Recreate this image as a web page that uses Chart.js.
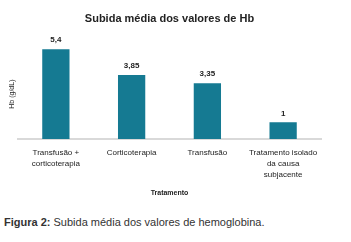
<!DOCTYPE html>
<html>
<head>
<meta charset="utf-8">
<script src="https://cdn.jsdelivr.net/npm/chart.js@4.4.0/dist/chart.umd.min.js"></script>
<style>
  body { margin: 0; background: #fff; width: 351px; height: 242px; overflow: hidden; }
  #wrap { position: absolute; left: 0; top: 0; width: 330px; height: 197px; }
  #caption { position: absolute; left: 4px; top: 216px; font: 11px "Liberation Sans", Arial, sans-serif; color: #333; white-space: nowrap; }
</style>
</head>
<body>
<div id="wrap"><canvas id="myChart"></canvas></div>
<div id="caption"><b>Figura 2:</b> Subida média dos valores de hemoglobina.</div>
<script>
var categorias = [
    ['Transfusão +', 'corticoterapia'],
    'Corticoterapia',
    'Transfusão',
    ['Tratamento isolado', 'da causa', 'subjacente']
]
var subidaHb = [5.4, 3.85, 3.35, 1]
var rotulos = ['5,4', '3,85', '3,35', '1']

var fonte = '"Liberation Sans", Arial, sans-serif'

// valores por cima das barras + titulo do eixo y
var rotulosPlugin = {
    id: 'rotulos',
    afterDatasetsDraw: function(chart){
        var ctx = chart.ctx
        var meta = chart.getDatasetMeta(0)
        ctx.save()
        ctx.fillStyle = '#222'
        ctx.font = 'bold 8px ' + fonte
        ctx.textAlign = 'center'
        ctx.textBaseline = 'middle'
        meta.data.forEach(function(bar, i){
            ctx.fillText(rotulos[i], bar.x, bar.y - 9)
        })
        var area = chart.chartArea
        ctx.translate(12, (area.top + area.bottom) / 2 + 5)
        ctx.rotate(-Math.PI / 2)
        ctx.font = '7px ' + fonte
        ctx.fillText('Hb (g/dL)', 0, 0)
        ctx.restore()
    }
}

var ctx = document.getElementById('myChart').getContext('2d');
var myChart = new Chart(ctx, {
    type: 'bar',
    data: {
        labels: categorias,
        datasets: [{
            data: subidaHb,
            backgroundColor: '#157a92',
            categoryPercentage: 1,
            barPercentage: 0.36
        }]
    },
    options: {
        responsive: true,
        maintainAspectRatio: false,
        animation: false,
        layout: { padding: { left: 18, right: 9, top: 0, bottom: 0 } },
        plugins: {
            legend: { display: false },
            tooltip: { enabled: false },
            title: {
                display: true,
                text: 'Subida média dos valores de Hb',
                color: '#222',
                font: { family: fonte, size: 11, weight: 'bold' },
                padding: { top: 12, bottom: 14 }
            }
        },
        scales: {
            y: {
                display: false,
                min: 0,
                max: 6
            },
            x: {
                grid: { display: false, drawTicks: false },
                border: { color: '#d9d9d9', width: 2 },
                ticks: {
                    color: '#222',
                    font: { family: fonte, size: 8, lineHeight: 1.4 },
                    maxRotation: 0,
                    autoSkip: false,
                    padding: 8
                },
                title: {
                    display: true,
                    text: 'Tratamento',
                    color: '#222',
                    font: { family: fonte, size: 7, weight: 'bold' },
                    padding: { top: 0, bottom: 0 }
                }
            }
        }
    },
    plugins: [rotulosPlugin]
});
</script>
</body>
</html>
